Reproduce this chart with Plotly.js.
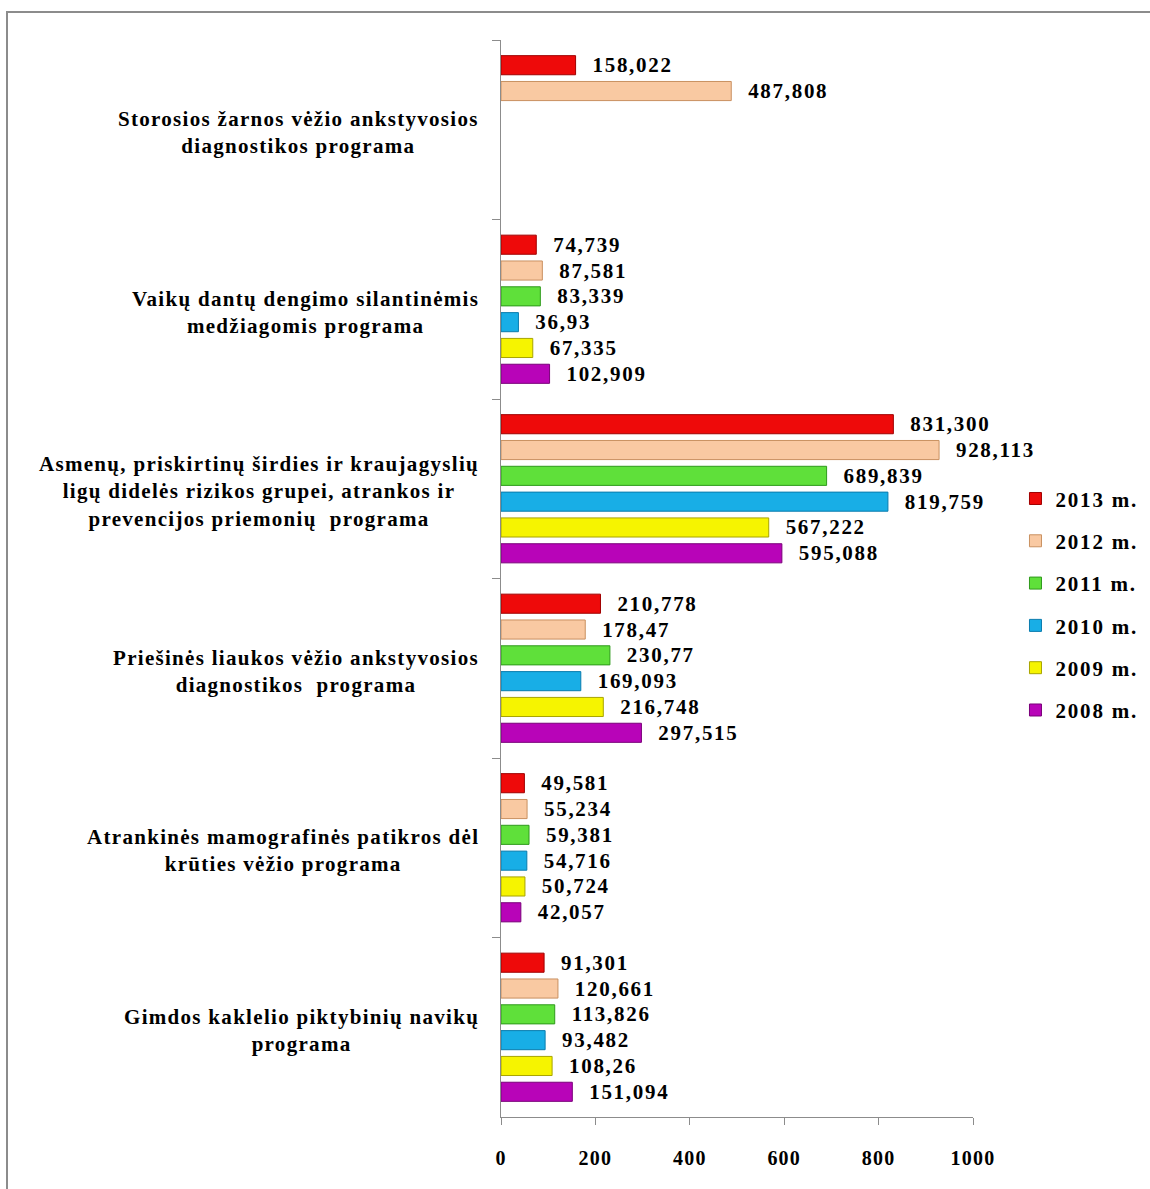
<!DOCTYPE html>
<html>
<head>
<meta charset="utf-8">
<script src="https://cdn.plot.ly/plotly-3.0.1.min.js"></script>
<style>
  html, body { margin: 0; padding: 0; background: #ffffff; }
  #chart { width: 1150px; height: 1189px; position: absolute; left: 0; top: 0; }
  #frame { position: absolute; left: 6px; top: 11px; width: 1200px; height: 1250px;
           border-top: 2px solid #8c8c8c; border-left: 2px solid #8c8c8c; pointer-events: none; z-index: 5; }
  .bartext { letter-spacing: 1.7px; }
  .annotation-text { letter-spacing: 1.3px; }
  .legendtext { letter-spacing: 1.8px; }
  .xtick text { letter-spacing: 1.2px; }
</style>
</head>
<body>
<div id="chart"></div>
<div id="frame"></div>
<script>
// Categories, top to bottom as in the picture
const categories = [
  "Storosios žarnos vėžio ankstyvosios<br>diagnostikos programa",
  "Vaikų dantų dengimo silantinėmis<br>medžiagomis programa",
  "Asmenų, priskirtinų širdies ir kraujagyslių<br>ligų didelės rizikos grupei, atrankos ir<br>prevencijos priemonių  programa",
  "Priešinės liaukos vėžio ankstyvosios<br>diagnostikos  programa",
  "Atrankinės mamografinės patikros dėl<br>krūties vėžio programa",
  "Gimdos kaklelio piktybinių navikų<br>programa"
];

const seriesNames = ["2013 m.", "2012 m.", "2011 m.", "2010 m.", "2009 m.", "2008 m."];

const v2013 = [158.022, 74.739, 831.300, 210.778, 49.581, 91.301];
const v2012 = [487.808, 87.581, 928.113, 178.47, 55.234, 120.661];
const v2011 = [null, 83.339, 689.839, 230.77, 59.381, 113.826];
const v2010 = [null, 36.93, 819.759, 169.093, 54.716, 93.482];
const v2009 = [null, 67.335, 567.222, 216.748, 50.724, 108.26];
const v2008 = [null, 102.909, 595.088, 297.515, 42.057, 151.094];

const l2013 = ["158,022", "74,739", "831,300", "210,778", "49,581", "91,301"];
const l2012 = ["487,808", "87,581", "928,113", "178,47", "55,234", "120,661"];
const l2011 = ["", "83,339", "689,839", "230,77", "59,381", "113,826"];
const l2010 = ["", "36,93", "819,759", "169,093", "54,716", "93,482"];
const l2009 = ["", "67,335", "567,222", "216,748", "50,724", "108,26"];
const l2008 = ["", "102,909", "595,088", "297,515", "42,057", "151,094"];

const xTickVals = [0, 200, 400, 600, 800, 1000];

const fillColors = ["#ee0a0a", "#f9c9a2", "#5fe03a", "#18aee6", "#f6f400", "#b804b8"];
const edgeColors = ["#a00000", "#c99060", "#2f9a1c", "#0a7cae", "#a8a400", "#7a007a"];

const values = [v2013, v2012, v2011, v2010, v2009, v2008];
const labels = [l2013, l2012, l2011, l2010, l2009, l2008];

const serif = "Liberation Serif, Times New Roman, serif";

const traces = values.map((vals, i) => ({
  type: "bar",
  orientation: "h",
  name: seriesNames[i],
  legendgroup: "g" + i,
  y: categories,
  x: vals,
  text: labels[i].map(s => s ? "\u00a0\u00a0" + s : ""),
  textposition: "outside",
  constraintext: "none",
  cliponaxis: false,
  textfont: { family: serif, size: 21, color: "#000000", weight: "bold" },
  marker: { color: fillColors[i], line: { color: edgeColors[i], width: 1 } },
  hoverinfo: "skip"
}));

const annotations = categories.map(c => ({
  xref: "paper", yref: "y",
  x: 0, y: c,
  xanchor: "right", yanchor: "middle",
  xshift: -20,
  yshift: -3,
  align: "center",
  showarrow: false,
  text: c,
  font: { family: serif, size: 21, color: "#000000", weight: "bold" }
}));

const layout = {
  width: 1150, height: 1189,
  margin: { l: 501, r: 177, t: 40, b: 72, pad: 0, autoexpand: false },
  paper_bgcolor: "rgba(0,0,0,0)",
  plot_bgcolor: "rgba(0,0,0,0)",
  barmode: "group",
  bargap: 0.137,
  bargroupgap: 0.26,
  showlegend: true,
  legend: {
    x: 1.09, xanchor: "left",
    y: 0.593, yanchor: "top",
    traceorder: "grouped",
    tracegroupgap: 12,
    bgcolor: "rgba(0,0,0,0)",
    borderwidth: 0,
    font: { family: serif, size: 21, color: "#000000", weight: "bold" }
  },
  xaxis: {
    range: [0, 1000],
    tickvals: xTickVals,
    ticktext: xTickVals.map(String),
    ticks: "outside",
    ticklen: 7,
    tickcolor: "#8c8c8c",
    tickwidth: 1,
    ticklabelstandoff: 16,
    showline: true,
    linecolor: "#8c8c8c",
    linewidth: 1,
    showgrid: false,
    zeroline: false,
    tickfont: { family: serif, size: 20, color: "#000000", weight: "bold" }
  },
  yaxis: {
    type: "category",
    categoryorder: "array",
    categoryarray: categories,
    autorange: "reversed",
    showticklabels: false,
    ticks: "outside",
    tickson: "boundaries",
    ticklen: 8,
    tickcolor: "#8c8c8c",
    showline: true,
    linecolor: "#8c8c8c",
    linewidth: 1,
    showgrid: false,
    zeroline: false
  },
  annotations: annotations
};

Plotly.newPlot("chart", traces, layout, { staticPlot: true, displayModeBar: false });
</script>
</body>
</html>
